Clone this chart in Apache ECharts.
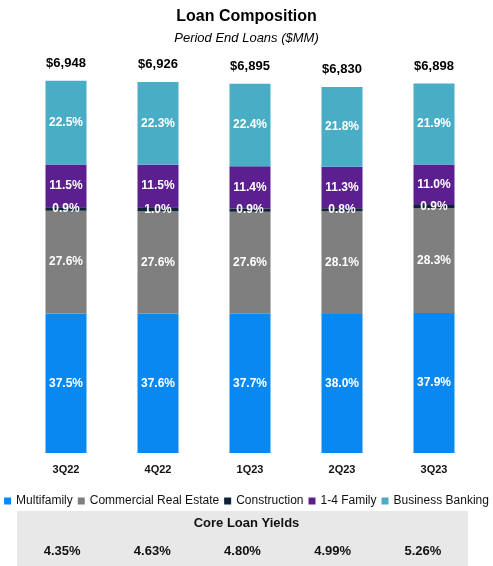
<!DOCTYPE html>
<html>
<head>
<meta charset="utf-8" />
<title>Loan Composition</title>
<script src="https://cdn.jsdelivr.net/npm/echarts@6/dist/echarts.min.js"></script>
<style>
  html, body { margin: 0; padding: 0; background: #fff; }
  #chart { width: 493px; height: 566px; }
</style>
</head>
<body>
<div id="chart"></div>
<script>
var quarters = ["3Q22", "4Q22", "1Q23", "2Q23", "3Q23"];
var totals = [6948, 6926, 6895, 6830, 6898];
var multifamily = [37.5, 37.6, 37.7, 38.0, 37.9];
var commercialRE = [27.6, 27.6, 27.6, 28.1, 28.3];
var construction = [0.9, 1.0, 0.9, 0.8, 0.9];
var oneToFour = [11.5, 11.5, 11.4, 11.3, 11.0];
var businessBanking = [22.5, 22.3, 22.4, 21.8, 21.9];
var coreYields = [4.35, 4.63, 4.80, 4.99, 5.26];

var font = "Liberation Sans, Arial, sans-serif";

// dollar amount of each segment = total * share
function toAmount(pcts) {
  return pcts.map(function (p, i) { return { value: totals[i] * p / 100, pct: p }; });
}

function seg(name, pcts, color) {
  return {
    name: name,
    type: "bar",
    stack: "loans",
    barWidth: 41,
    data: toAmount(pcts),
    itemStyle: { color: color },
    label: {
      show: true,
      position: "inside",
      color: "#fff",
      fontWeight: "bold",
      fontSize: 12,
      fontFamily: font,
      formatter: function (p) { return p.data.pct.toFixed(1) + "%"; }
    }
  };
}

var chart = echarts.init(document.getElementById("chart"));
chart.setOption({
  animation: false,
  title: [
    { text: "Loan Composition", left: "center", top: 4,
      textStyle: { fontSize: 16, fontWeight: "bold", color: "#000", fontFamily: font } },
    { text: "Period End Loans ($MM)", left: "center", top: 27,
      textStyle: { fontSize: 13, fontStyle: "italic", fontWeight: "normal", color: "#000", fontFamily: font } }
  ],
  legend: {
    top: 495,
    left: "center",
    padding: 0,
    icon: "rect",
    itemWidth: 7,
    itemHeight: 7,
    itemGap: 5,
    textStyle: { fontSize: 12, color: "#111", fontFamily: font },
    data: ["Multifamily", "Commercial Real Estate", "Construction", "1-4 Family", "Business Banking"]
  },
  graphic: [
    { type: "rect", left: 17, top: 511, shape: { width: 451, height: 55 }, style: { fill: "#e8e8e8" }, z: -1 },
    { type: "text", left: "center", top: 517,
      style: { text: "Core Loan Yields", fontSize: 13, fontWeight: "bold", fill: "#111", fontFamily: font } }
  ],
  grid: [
    { left: 20, right: 13, top: 78, bottom: 113 },
    { left: 17, width: 451, top: 530, height: 21 }
  ],
  xAxis: [
    { type: "category", gridIndex: 0, data: quarters,
      axisLine: { show: false }, axisTick: { show: false },
      axisLabel: { margin: 11, fontSize: 11, fontWeight: "bold", color: "#111", fontFamily: font } },
    { type: "category", gridIndex: 1, data: coreYields.map(function (v) { return v.toFixed(2) + "%"; }),
      axisLine: { show: false }, axisTick: { show: false },
      axisLabel: { margin: 0, verticalAlign: "middle", fontSize: 13, fontWeight: "bold", color: "#111", fontFamily: font } }
  ],
  yAxis: [
    { type: "value", gridIndex: 0, min: 0, max: 7000, show: false, splitLine: { show: false } },
    { type: "value", gridIndex: 1, show: false, splitLine: { show: false } }
  ],
  series: [
    seg("Multifamily", multifamily, "#0a88f2"),
    seg("Commercial Real Estate", commercialRE, "#7f7f7f"),
    seg("Construction", construction, "#0e2238"),
    seg("1-4 Family", oneToFour, "#5c1f8f"),
    seg("Business Banking", businessBanking, "#4aadc6"),
    {
      // zero-height cap on the stack, only carries the total label
      name: "Total",
      type: "bar",
      stack: "loans",
      barWidth: 41,
      silent: true,
      data: totals.map(function (t) { return { value: 0, total: t }; }),
      label: {
        show: true,
        position: "top",
        distance: 11,
        color: "#000",
        fontWeight: "bold",
        fontSize: 13,
        fontFamily: font,
        formatter: function (p) { return "$" + p.data.total.toLocaleString("en-US"); }
      }
    }
  ]
});
</script>
</body>
</html>
